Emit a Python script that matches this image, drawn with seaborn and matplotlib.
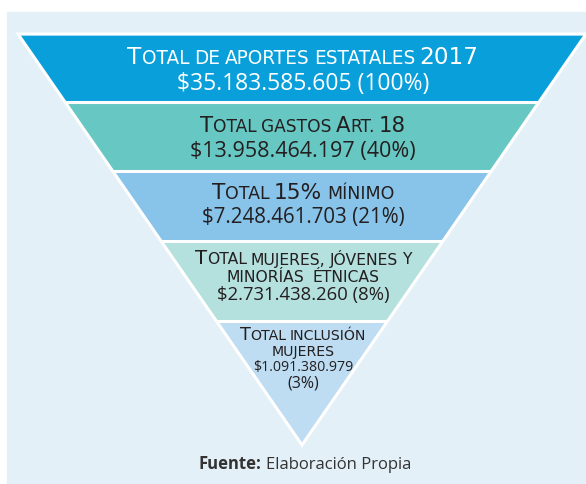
import matplotlib
matplotlib.use("Agg")
import matplotlib.pyplot as plt
import seaborn as sns
from matplotlib.patches import Polygon, Rectangle
from matplotlib.offsetbox import TextArea, HPacker, AnnotationBbox

# Funnel levels (top to bottom)
titles = [["Total de aportes estatales 2017"],
          ["Total gastos Art. 18"],
          ["Total 15% mínimo"],
          ["Total mujeres, jóvenes y", "minorías  étnicas"],
          ["Total inclusión", "mujeres"]]
amounts = [35183585605, 13958464197, 7248461703, 2731438260, 1091380979]
shares = [100, 40, 21, 8, 3]
band_colors = ["#089fdb", "#67c7c3", "#88c3ea", "#b4e0de", "#bedcf2"]
text_colors = ["white", "#231f20", "#231f20", "#231f20", "#231f20"]
source_label = "Fuente:"
source_text = "Elaboración Propia"

sns.set_theme(style="white")
plt.rcParams["font.family"] = ["Open Sans", "DejaVu Sans"]

# layout in pixel units
band_tops = [34, 102, 171, 241, 321]
apex_y = 445
tri_left, tri_right, apex_x = 18, 586, 302
head_sizes = [16.7, 15.3, 15.6, 14.1, 12.7]
amount_sizes = [16.5, 15.5, 14.8, 13.3, 10.2]
line_y = [[57, 84], [126, 152], [193, 218], [259, 277, 295], [335, 352, 367, 383]]

fig = plt.figure(figsize=(5.86, 4.84), dpi=100)
ax = fig.add_axes([0, 0, 1, 1])
ax.set_xlim(0, 586)
ax.set_ylim(484, 0)
ax.axis("off")

ax.add_patch(Rectangle((7, 12), 586, 480, color="#e4f0f8", zorder=0))

corners = [(tri_left, band_tops[0]), (tri_right, band_tops[0]), (apex_x, apex_y)]
tri = Polygon(corners, closed=True, transform=ax.transData)

bottoms = band_tops[1:] + [apex_y]
heights = [b - t for t, b in zip(band_tops, bottoms)]
bars = ax.barh([t + h / 2 for t, h in zip(band_tops, heights)], 600, height=heights,
               left=0, color=band_colors, zorder=1)
for bar in bars:
    bar.set_clip_path(tri)
seps = ax.hlines(band_tops[1:], 0, 586, color="white", lw=2.2, zorder=2)
seps.set_clip_path(tri)
ax.add_patch(Polygon(corners, closed=True, fill=False, edgecolor="white", lw=2.2, zorder=3))


def smallcaps(text, size, color, ratio=0.8):
    words = []
    for word in text.split(" "):
        runs = []
        for ch in word:
            big = ch.isupper() or ch.isdigit() or ch == "%"
            if not ch.isalnum() and ch != "%" and runs:
                big = runs[-1][0]
            if runs and runs[-1][0] == big:
                runs[-1][1] += ch
            else:
                runs.append([big, ch])
        boxes = [TextArea(s.upper(), textprops=dict(color=color, family="DejaVu Sans",
                 fontsize=size if b else size * ratio)) for b, s in runs]
        words.append(HPacker(children=boxes, align="baseline", pad=0, sep=0))
    return HPacker(children=words, align="baseline", pad=0, sep=size * 0.2)


def place(box, y):
    ab = AnnotationBbox(box, (303, y), xycoords="data", frameon=False,
                        box_alignment=(0.5, 0.5), pad=0, zorder=4)
    ax.add_artist(ab)


for i in range(len(titles)):
    ys = line_y[i]
    for j, line in enumerate(titles[i]):
        place(smallcaps(line, head_sizes[i], text_colors[i]), ys[j])
    amount = "$" + f"{amounts[i]:,}".replace(",", ".")
    share = f"({shares[i]}%)"
    n = len(titles[i])
    if len(ys) > n + 1:
        place(TextArea(amount, textprops=dict(color=text_colors[i], fontsize=amount_sizes[i])), ys[n])
        place(TextArea(share, textprops=dict(color=text_colors[i], fontsize=11.5)), ys[n + 1])
    else:
        place(TextArea(amount + " " + share,
                       textprops=dict(color=text_colors[i], fontsize=amount_sizes[i])), ys[n])

src = HPacker(children=[TextArea(source_label, textprops=dict(color="#333333", fontsize=12, fontweight="bold")),
                        TextArea(source_text, textprops=dict(color="#333333", fontsize=12))],
              align="baseline", pad=0, sep=3)
ab = AnnotationBbox(src, (305, 464), xycoords="data", frameon=False,
                    box_alignment=(0.5, 0.5), pad=0)
ax.add_artist(ab)

fig.savefig("out.png", dpi=100, facecolor="white")
